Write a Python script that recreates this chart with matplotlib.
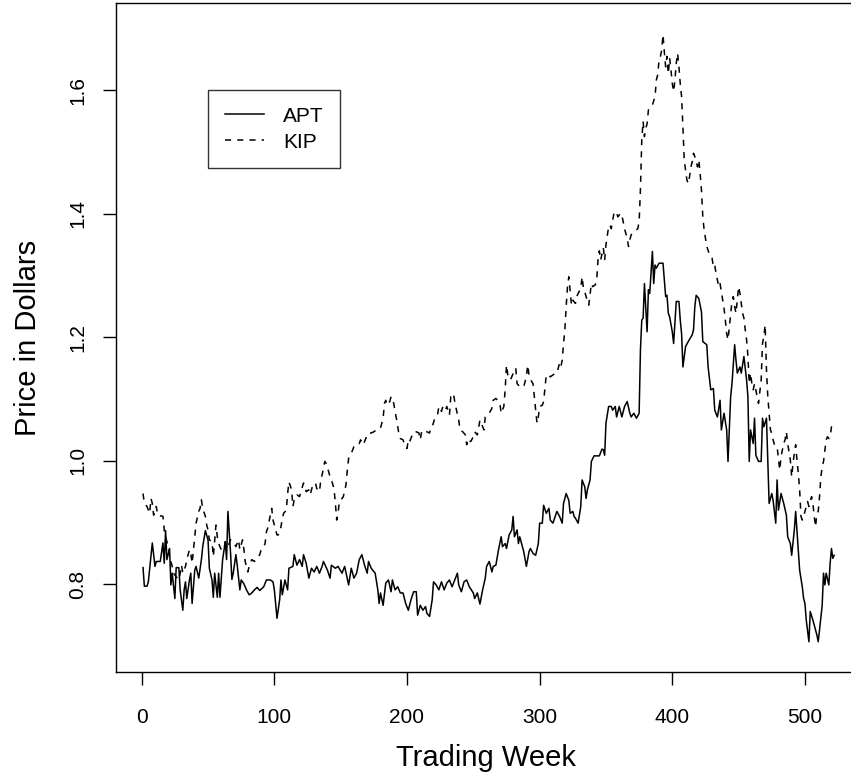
import matplotlib
matplotlib.use('Agg')
import matplotlib.pyplot as plt

plt.rcParams['font.family'] = ['Liberation Sans', 'DejaVu Sans']

apt_week = [1, 2, 4, 5, 8, 10, 11, 14, 16, 17, 18, 19, 21, 22, 23, 25, 26, 28, 29, 31,
            32, 33, 34, 36, 37, 38, 40, 41, 43, 45, 46, 48, 50, 51, 53, 54, 55, 57, 58, 59,
            61, 63, 64, 65, 67, 68, 69, 71, 72, 74, 75, 77, 79, 81, 83, 85, 87, 89, 92, 94,
            97, 99, 100, 102, 104, 105, 106, 108, 110, 111, 114, 115, 117, 119, 121, 122, 124, 126, 128, 130,
            132, 134, 136, 137, 140, 142, 143, 146, 148, 151, 153, 156, 158, 160, 162, 164, 166, 168, 170, 171,
            173, 176, 178, 179, 180, 182, 184, 186, 188, 189, 191, 193, 195, 197, 199, 201, 203, 205, 207, 208,
            210, 212, 214, 215, 217, 219, 220, 222, 224, 226, 228, 230, 232, 234, 236, 238, 239, 241, 243, 245,
            247, 250, 251, 253, 255, 257, 259, 260, 262, 264, 265, 267, 269, 271, 272, 274, 275, 277, 279, 280,
            281, 283, 284, 285, 287, 288, 290, 292, 293, 295, 297, 299, 300, 302, 303, 305, 307, 308, 310, 312,
            313, 315, 317, 318, 320, 322, 323, 325, 326, 327, 329, 331, 332, 334, 335, 336, 338, 339, 341, 345,
            347, 348, 349, 350, 352, 354, 355, 357, 358, 360, 362, 364, 366, 368, 369, 371, 373, 375, 376, 377,
            378, 379, 381, 382, 383, 385, 386, 387, 388, 390, 393, 395, 396, 397, 398, 400, 401, 402, 403, 405,
            406, 407, 408, 410, 412, 415, 416, 417, 418, 420, 422, 423, 426, 427, 429, 431, 432, 434, 436, 437,
            439, 441, 442, 444, 445, 447, 448, 449, 451, 452, 454, 456, 457, 458, 459, 461, 462, 463, 465, 467,
            468, 469, 471, 472, 473, 475, 476, 478, 479, 480, 482, 484, 486, 487, 489, 490, 492, 493, 495, 496,
            498, 499, 500, 501, 503, 504, 506, 508, 509, 510, 511, 513, 514, 515, 516, 518, 519, 520, 521, 522]
apt_price = [0.827, 0.797, 0.797, 0.804, 0.867, 0.829, 0.837, 0.837, 0.867, 0.834, 0.887, 0.840, 0.858, 0.799, 0.818, 0.777, 0.827, 0.827, 0.791, 0.758,
             0.791, 0.804, 0.777, 0.807, 0.818, 0.769, 0.823, 0.829, 0.810, 0.840, 0.861, 0.887, 0.872, 0.826, 0.807, 0.779, 0.818, 0.779, 0.818, 0.779,
             0.840, 0.869, 0.840, 0.918, 0.850, 0.808, 0.818, 0.848, 0.831, 0.791, 0.807, 0.801, 0.791, 0.783, 0.786, 0.791, 0.795, 0.790, 0.796, 0.807,
             0.807, 0.804, 0.791, 0.745, 0.775, 0.807, 0.783, 0.807, 0.791, 0.826, 0.829, 0.848, 0.831, 0.840, 0.829, 0.848, 0.834, 0.810, 0.826, 0.820,
             0.829, 0.818, 0.829, 0.837, 0.823, 0.810, 0.831, 0.826, 0.829, 0.818, 0.829, 0.799, 0.826, 0.810, 0.818, 0.840, 0.848, 0.831, 0.818, 0.837,
             0.826, 0.818, 0.791, 0.769, 0.786, 0.766, 0.802, 0.807, 0.788, 0.807, 0.791, 0.796, 0.786, 0.786, 0.769, 0.758, 0.775, 0.788, 0.788, 0.750,
             0.766, 0.758, 0.764, 0.753, 0.748, 0.775, 0.804, 0.799, 0.791, 0.804, 0.791, 0.802, 0.807, 0.796, 0.807, 0.818, 0.799, 0.788, 0.804, 0.807,
             0.796, 0.786, 0.777, 0.786, 0.768, 0.791, 0.810, 0.829, 0.837, 0.820, 0.829, 0.831, 0.856, 0.877, 0.861, 0.866, 0.858, 0.880, 0.888, 0.910,
             0.877, 0.888, 0.866, 0.877, 0.861, 0.853, 0.829, 0.853, 0.858, 0.850, 0.847, 0.866, 0.899, 0.899, 0.928, 0.915, 0.923, 0.904, 0.899, 0.912,
             0.918, 0.910, 0.899, 0.931, 0.947, 0.936, 0.915, 0.918, 0.910, 0.907, 0.899, 0.926, 0.969, 0.958, 0.939, 0.953, 0.969, 0.999, 1.008, 1.008,
             1.019, 1.018, 1.009, 1.061, 1.088, 1.088, 1.082, 1.088, 1.071, 1.088, 1.071, 1.088, 1.096, 1.077, 1.071, 1.077, 1.069, 1.077, 1.180, 1.228,
             1.231, 1.287, 1.209, 1.277, 1.271, 1.339, 1.287, 1.317, 1.312, 1.320, 1.320, 1.266, 1.268, 1.239, 1.233, 1.209, 1.190, 1.223, 1.258, 1.258,
             1.228, 1.206, 1.152, 1.185, 1.193, 1.204, 1.212, 1.250, 1.268, 1.263, 1.241, 1.193, 1.188, 1.152, 1.115, 1.117, 1.082, 1.071, 1.098, 1.050,
             1.077, 1.050, 0.999, 1.104, 1.125, 1.188, 1.163, 1.142, 1.152, 1.142, 1.169, 1.131, 1.104, 0.999, 1.050, 1.028, 1.069, 1.009, 0.999, 0.999,
             1.069, 1.055, 1.069, 0.999, 0.931, 0.947, 0.936, 0.899, 0.969, 0.920, 0.947, 0.931, 0.912, 0.877, 0.866, 0.847, 0.888, 0.918, 0.856, 0.823,
             0.796, 0.777, 0.769, 0.742, 0.707, 0.756, 0.742, 0.726, 0.718, 0.707, 0.726, 0.766, 0.818, 0.799, 0.818, 0.799, 0.834, 0.858, 0.842, 0.847]

kip_week = [1, 2, 4, 6, 7, 8, 9, 11, 12, 16, 17, 18, 20, 21, 23, 24, 26, 28, 29, 30,
            31, 33, 34, 36, 37, 38, 39, 40, 41, 43, 44, 45, 46, 48, 49, 50, 51, 53, 54, 56,
            57, 58, 60, 62, 63, 65, 67, 68, 70, 71, 73, 74, 76, 77, 78, 80, 81, 83, 85, 87,
            89, 90, 92, 93, 94, 95, 97, 98, 99, 100, 102, 103, 105, 106, 107, 109, 110, 111, 113, 114,
            115, 116, 117, 119, 120, 122, 123, 124, 126, 127, 129, 131, 132, 134, 135, 136, 138, 139, 141, 142,
            143, 145, 146, 147, 148, 149, 151, 152, 154, 155, 156, 157, 158, 160, 161, 162, 164, 165, 167, 168,
            170, 171, 173, 175, 177, 178, 180, 182, 183, 184, 185, 187, 188, 190, 191, 192, 193, 194, 195, 197,
            198, 200, 201, 202, 204, 205, 207, 209, 210, 211, 213, 215, 217, 218, 219, 221, 223, 224, 226, 227,
            229, 230, 232, 233, 235, 236, 237, 239, 240, 242, 244, 245, 246, 248, 250, 251, 253, 255, 256, 258,
            259, 261, 262, 264, 265, 267, 269, 270, 271, 273, 274, 275, 276, 278, 279, 281, 282, 283, 285, 287,
            288, 290, 291, 292, 294, 295, 296, 297, 298, 299, 300, 302, 303, 304, 305, 307, 308, 310, 312, 313,
            315, 316, 317, 318, 319, 320, 321, 322, 323, 324, 325, 327, 328, 329, 331, 332, 333, 334, 335, 337,
            338, 339, 340, 342, 343, 344, 345, 346, 348, 349, 350, 352, 353, 354, 356, 357, 358, 359, 361, 362,
            364, 366, 367, 368, 369, 371, 373, 374, 375, 376, 377, 378, 379, 380, 381, 382, 383, 384, 385, 387,
            388, 389, 390, 391, 392, 393, 394, 395, 396, 397, 398, 399, 400, 401, 402, 403, 404, 405, 406, 407,
            408, 409, 410, 411, 412, 413, 414, 415, 416, 418, 419, 420, 421, 422, 423, 424, 425, 426, 427, 428,
            430, 431, 432, 433, 434, 435, 436, 437, 438, 439, 440, 441, 442, 443, 444, 445, 446, 447, 448, 449,
            450, 451, 452, 453, 454, 455, 456, 457, 458, 459, 460, 461, 462, 464, 465, 466, 467, 468, 469, 470,
            471, 472, 473, 474, 475, 476, 477, 479, 480, 481, 482, 484, 485, 486, 487, 489, 490, 491, 492, 493,
            494, 495, 496, 497, 498, 499, 501, 502, 503, 505, 506, 507, 508, 509, 510, 511, 512, 513, 514, 515,
            516, 517, 518, 519, 520, 521, 522]
kip_price = [0.947, 0.931, 0.926, 0.915, 0.939, 0.931, 0.912, 0.926, 0.912, 0.910, 0.888, 0.877, 0.861, 0.845, 0.829, 0.818, 0.812, 0.807, 0.818, 0.831,
             0.818, 0.829, 0.840, 0.856, 0.850, 0.834, 0.856, 0.877, 0.899, 0.918, 0.923, 0.937, 0.923, 0.910, 0.896, 0.888, 0.872, 0.869, 0.845, 0.896,
             0.877, 0.866, 0.856, 0.856, 0.869, 0.861, 0.872, 0.869, 0.866, 0.861, 0.872, 0.856, 0.872, 0.858, 0.837, 0.820, 0.829, 0.840, 0.837, 0.842,
             0.848, 0.856, 0.861, 0.866, 0.885, 0.891, 0.912, 0.923, 0.904, 0.896, 0.880, 0.880, 0.893, 0.907, 0.915, 0.920, 0.947, 0.966, 0.953, 0.926,
             0.937, 0.942, 0.945, 0.942, 0.950, 0.964, 0.958, 0.950, 0.953, 0.945, 0.961, 0.964, 0.955, 0.950, 0.969, 0.977, 0.999, 0.996, 0.982, 0.974,
             0.969, 0.955, 0.931, 0.904, 0.915, 0.934, 0.939, 0.942, 0.961, 0.985, 1.004, 1.009, 1.012, 1.023, 1.026, 1.028, 1.028, 1.034, 1.026, 1.031,
             1.042, 1.045, 1.045, 1.047, 1.050, 1.050, 1.053, 1.069, 1.093, 1.098, 1.090, 1.096, 1.104, 1.093, 1.080, 1.069, 1.055, 1.042, 1.036, 1.034,
             1.028, 1.020, 1.034, 1.031, 1.042, 1.047, 1.047, 1.045, 1.034, 1.047, 1.050, 1.047, 1.045, 1.053, 1.055, 1.069, 1.074, 1.088, 1.080, 1.088,
             1.082, 1.088, 1.074, 1.104, 1.109, 1.096, 1.085, 1.066, 1.050, 1.047, 1.042, 1.026, 1.036, 1.031, 1.039, 1.047, 1.042, 1.066, 1.061, 1.050,
             1.071, 1.074, 1.077, 1.085, 1.098, 1.101, 1.096, 1.093, 1.077, 1.088, 1.115, 1.155, 1.139, 1.131, 1.136, 1.147, 1.150, 1.125, 1.120, 1.120,
             1.120, 1.136, 1.155, 1.139, 1.128, 1.125, 1.104, 1.082, 1.061, 1.071, 1.088, 1.090, 1.096, 1.117, 1.139, 1.139, 1.136, 1.139, 1.142, 1.142,
             1.158, 1.152, 1.163, 1.190, 1.212, 1.250, 1.282, 1.298, 1.274, 1.252, 1.260, 1.255, 1.266, 1.271, 1.279, 1.298, 1.279, 1.274, 1.266, 1.252,
             1.269, 1.287, 1.282, 1.285, 1.293, 1.325, 1.340, 1.325, 1.345, 1.325, 1.350, 1.379, 1.382, 1.376, 1.401, 1.398, 1.401, 1.395, 1.401, 1.398,
             1.376, 1.360, 1.347, 1.358, 1.366, 1.371, 1.374, 1.376, 1.387, 1.440, 1.520, 1.550, 1.525, 1.538, 1.546, 1.568, 1.571, 1.573, 1.576, 1.590,
             1.617, 1.625, 1.649, 1.654, 1.665, 1.690, 1.662, 1.638, 1.655, 1.627, 1.652, 1.633, 1.611, 1.598, 1.617, 1.644, 1.660, 1.638, 1.611, 1.590,
             1.541, 1.487, 1.471, 1.455, 1.449, 1.460, 1.476, 1.484, 1.498, 1.487, 1.476, 1.487, 1.465, 1.438, 1.395, 1.374, 1.360, 1.347, 1.341, 1.333,
             1.328, 1.314, 1.317, 1.303, 1.293, 1.282, 1.287, 1.274, 1.260, 1.247, 1.228, 1.206, 1.196, 1.217, 1.239, 1.258, 1.266, 1.250, 1.239, 1.260,
             1.282, 1.271, 1.255, 1.239, 1.231, 1.212, 1.196, 1.170, 1.125, 1.142, 1.125, 1.115, 1.125, 1.104, 1.093, 1.112, 1.131, 1.190, 1.201, 1.220,
             1.147, 1.104, 1.077, 1.050, 1.044, 1.034, 1.026, 1.023, 1.004, 0.985, 1.007, 1.028, 1.034, 1.047, 1.028, 1.001, 0.974, 0.996, 1.012, 1.026,
             1.001, 0.980, 0.953, 0.910, 0.904, 0.910, 0.926, 0.934, 0.926, 0.942, 0.931, 0.910, 0.893, 0.915, 0.918, 0.942, 0.974, 0.990, 0.999, 1.017,
             1.034, 1.039, 1.036, 1.039, 1.055, 1.058, 1.060]

x_ticks = [0, 100, 200, 300, 400, 500]
y_ticks = [0.8, 1.0, 1.2, 1.4, 1.6]

fig = plt.figure(figsize=(8.51, 7.78), dpi=100)
ax = fig.add_axes([0.13596, 0.13586, 0.8732, 0.8607])

ax.plot(apt_week, apt_price, color='black', lw=1.1, label='APT')
ax.plot(kip_week, kip_price, color='black', lw=1.1, linestyle=(0, (4, 4)), label='KIP')

ax.set_xlim(-19.6, 540.6)
ax.set_ylim(0.6575, 1.7419)
ax.set_xticks(x_ticks)
ax.set_xticklabels([str(t) for t in x_ticks])
ax.set_yticks(y_ticks)
ax.set_yticklabels(['%.1f' % t for t in y_ticks], rotation=90, va='center')
ax.tick_params(axis='both', direction='out', length=9.5, width=1.0, labelsize=15, color='black')
ax.tick_params(axis='x', pad=16)
ax.tick_params(axis='y', pad=11)
for s in ax.spines.values():
    s.set_linewidth(1.0)
    s.set_color('black')

ax.set_xlabel('Trading Week', fontsize=21, va='center')
ax.set_ylabel('Price in Dollars', fontsize=21, va='center')
ax.xaxis.set_label_coords(486 / 851, 1 - 758 / 778, transform=fig.transFigure)
ax.yaxis.set_label_coords(28 / 851, 1 - 337.5 / 778, transform=fig.transFigure)

leg = ax.legend(loc='upper left', bbox_to_anchor=(208 / 851, 1 - 90 / 778),
                bbox_transform=fig.transFigure, borderaxespad=0, fontsize=15,
                frameon=True, fancybox=False, borderpad=0.8, handlelength=1.9,
                handletextpad=0.9, labelspacing=0.34)
leg.get_frame().set_edgecolor('black')
leg.get_frame().set_linewidth(1.0)

fig.savefig('out.png', dpi=100)
